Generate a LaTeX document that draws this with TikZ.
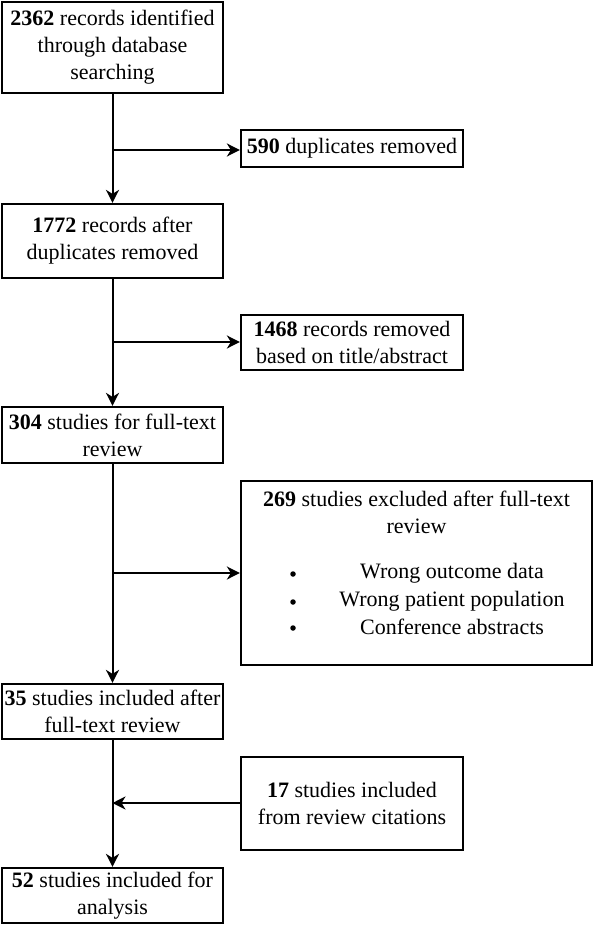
\documentclass[tikz,border=0pt]{standalone}
\usepackage{fontspec}
\setmainfont{Liberation Serif}
\usetikzlibrary{arrows.meta}

\begin{document}
\begin{tikzpicture}[x=1pt,y=-1pt,
  box/.style={draw,line width=2.2pt,align=center,inner sep=2pt,font=\fontsize{22}{27}\selectfont},
  mainbox/.style={box,minimum width=221pt},
  sidebox/.style={box,minimum width=222pt},
  arr/.style={line width=2pt,-{Stealth[length=13pt,width=13pt,inset=4pt]}},
  txt/.style={inner sep=0pt,align=center,font=\fontsize{22}{27}\selectfont},
  dot/.style={circle,fill,inner sep=0pt,minimum size=5.5pt}]
\useasboundingbox (0,0) rectangle (593,925);
\node[mainbox,minimum height=91pt](n2362) at(112.5,47.5) {\textbf{2362} records identified\\through database\\searching};
\node[mainbox,minimum height=74pt](n1772) at(112.5,241) {\textbf{1772} records after\\duplicates removed};
\node[mainbox,minimum height=56pt](n304) at(112.5,435) {\textbf{304} studies for full-text\\review};
\node[mainbox,minimum height=55pt](n35) at(112.5,711.5) {\textbf{35} studies included after\\full-text review};
\node[mainbox,minimum height=55pt](n52) at(112.5,895.5) {\textbf{52} studies included for\\analysis};
\node[sidebox,minimum height=37pt](n590) at(352,148.5) {\textbf{590} duplicates removed};
\node[sidebox,minimum height=55pt](n1468) at(352,342.5) {\textbf{1468} records removed\\based on title/abstract};
\node[box,minimum width=351pt,minimum height=184pt](n269) at(416.5,573) {};
\node[txt](n269head) at(416.5,512.5) {\textbf{269} studies excluded after full-text\\review};
\foreach \y/\why in {573/Wrong outcome data,601/Wrong patient population,627/Conference abstracts} {
   \node[dot] at (293,\y+1) {};
   \node[txt] at (452,\y) {\why};
}
\node[sidebox,minimum height=93pt](n17) at(352,803.5) {\textbf{17} studies included\\from review citations};
\coordinate (b590) at (112.5,150);
\coordinate (b1468) at (112.5,342);
\coordinate (b269) at (112.5,573);
\coordinate (b17) at (112.5,803);
\draw[arr] (n2362) -- (n1772);
\draw[arr] (n1772) -- (n304);
\draw[arr] (n304) -- (n35);
\draw[arr] (n35) -- (n52);
\draw[arr] (b590) -- (b590 -| n590.west);
\draw[arr] (b1468) -- (b1468 -| n1468.west);
\draw[arr] (b269) -- (b269 -| n269.west);
\draw[arr] (b17 -| n17.west) -- (b17);
\end{tikzpicture}
\end{document}
